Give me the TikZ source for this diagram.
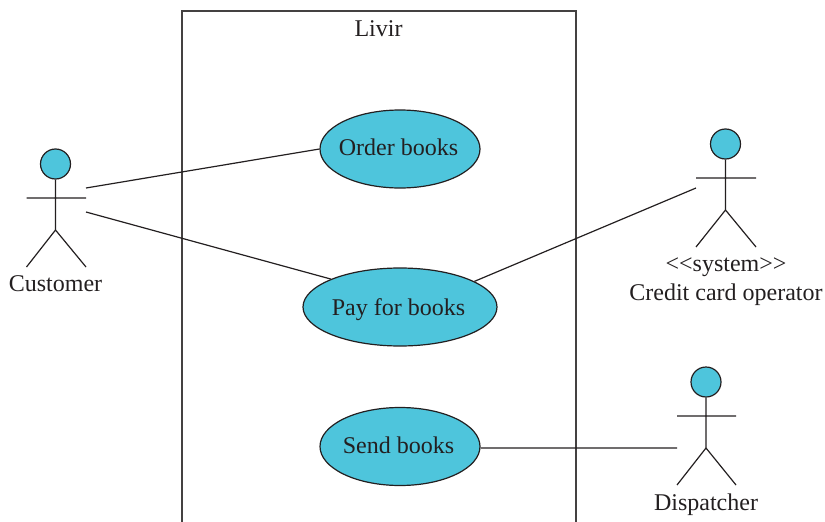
\documentclass[tikz,border=0pt]{standalone}
\usepackage{fontspec}
\usetikzlibrary{shapes.geometric}
\setmainfont{Liberation Serif}
\definecolor{ucfill}{HTML}{4EC5DC}
\definecolor{ink}{HTML}{231F20}
\tikzset{
  usecase/.style={ellipse,draw=ink,fill=ucfill,line width=1.2pt,inner sep=0pt,inner xsep=-6pt,text=ink,text depth=0pt,font=\fontsize{24}{26}\selectfont},
  head/.style={circle,draw=ink,fill=ucfill,line width=1.2pt,inner sep=0pt,minimum size=30pt},
  limb/.style={draw=ink,line width=1.2pt},
  link/.style={draw=ink,line width=1.2pt},
  frame/.style={draw=ink!85,line width=1.1pt},
  lbl/.style={text=ink,inner sep=0pt,anchor=base,font=\fontsize{24}{26}\selectfont}
}
\begin{document}
\begin{tikzpicture}[x=1pt,y=-1pt]
\useasboundingbox (0,0) rectangle (825,522);
\draw[frame] (182,522) -- (182,11) -- (576,11) -- (576,522);
\node[lbl] (title) at (378.5,36) {Livir};
\node[usecase,text height=13.6pt,minimum width=160pt,minimum height=78pt] (order) at (400,149) {\kern-3pt Order books};
\node[usecase,text height=16pt,minimum width=194pt,minimum height=78pt] (pay) at (400,307) {\kern-3pt Pay for books};
\node[usecase,text height=13.6pt,minimum width=160pt,minimum height=78pt] (send) at (400,446.5) {\kern-3pt Send books};
% Customer
\node[head] (chead) at (55.5,164) {};
\coordinate (chip) at (55.5,230);
\coordinate (cl) at (26.5,198);
\coordinate (cr) at (86,198);
\coordinate (cfl) at (26.5,267);
\coordinate (cfr) at (86,267);
\draw[limb] (chead) -- (chip) (cl) -- (cr) (cfl) -- (chip) -- (cfr);
\node[lbl] (clabel) at (55.5,291) {Customer};
\coordinate (ca) at (86,188);
\coordinate (cb) at (86,212);
% Operator
\node[head] (ohead) at (725.5,144) {};
\coordinate (ohip) at (725.5,210);
\coordinate (ol) at (696,178);
\coordinate (or) at (756,178);
\coordinate (ofl) at (696,247);
\coordinate (ofr) at (756,247);
\draw[limb] (ohead) -- (ohip) (ol) -- (or) (ofl) -- (ohip) -- (ofr);
\node[lbl] (olabela) at (726,271) {<{}<system>{}>};
\node[lbl] (olabelb) at (726,300) {Credit card operator};
\coordinate (oa) at (696,188);
% Dispatcher
\node[head] (dhead) at (706,382) {};
\coordinate (dhip) at (706,448);
\coordinate (dl) at (677,416);
\coordinate (dr) at (736,416);
\coordinate (dfl) at (677,485);
\coordinate (dfr) at (736,485);
\draw[limb] (dhead) -- (dhip) (dl) -- (dr) (dfl) -- (dhip) -- (dfr);
\node[lbl] (dlabel) at (706,510) {Dispatcher};
\coordinate (da) at (677,448);
% Connectors
\draw[link] (ca) -- (order.west);
\draw[link] (cb) -- (pay.158);
\draw[link] (oa) -- (pay.19);
\draw[link] (send.-1.3) -- (da);
\end{tikzpicture}
\end{document}
